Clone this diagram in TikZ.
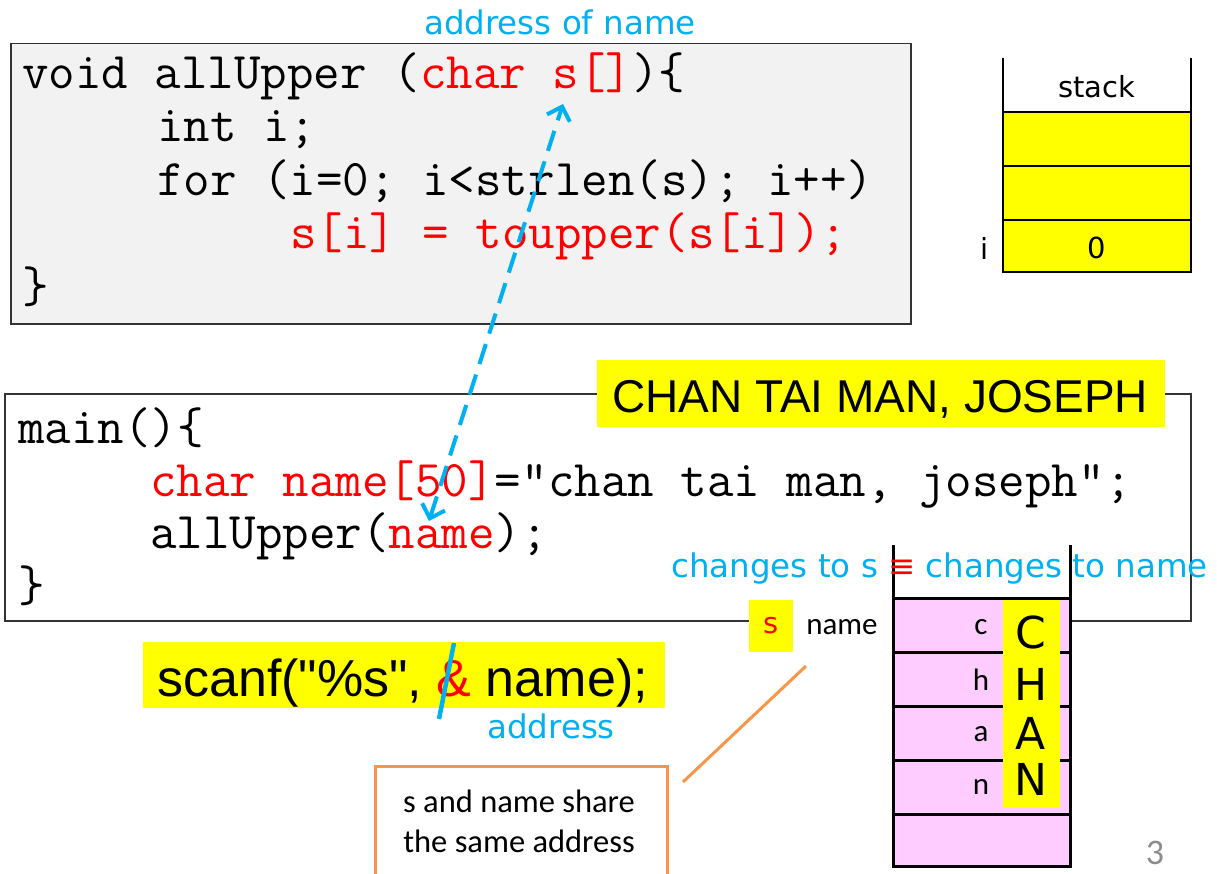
\documentclass[tikz,border=0pt]{standalone}
\usepackage{fontspec}
\usetikzlibrary{arrows.meta}
\newfontfamily\dvs{DejaVu Sans}
\newfontfamily\carl{Carlito}
\newfontfamily\libs{Liberation Sans}
\definecolor{skyb}{HTML}{00B0F0}
\definecolor{codered}{HTML}{FF0000}
\definecolor{boxgray}{HTML}{F2F2F2}
\definecolor{hlyellow}{HTML}{FFFF00}
\definecolor{memPink}{HTML}{FFCCFF}
\definecolor{calloutOrange}{HTML}{F79646}
\definecolor{pagegray}{HTML}{8C8C8C}
\tikzset{
  code/.style={inner sep=0pt, anchor=base west, font=\ttfamily\fontsize{51.5}{56}\selectfont},
  bluelabel/.style={inner sep=0pt, text=skyb, font=\dvs\fontsize{32.5}{38}\selectfont},
  framebox/.style={draw=black!80, line width=1.5pt, inner sep=0pt, anchor=north west},
  hlbox/.style={fill=hlyellow, inner sep=0pt, anchor=north west},
  smallchar/.style={inner sep=0pt, font=\carl\fontsize{31}{34}\selectfont},
  bigchar/.style={inner sep=0pt, font=\dvs\fontsize{44}{50}\selectfont},
  stacklbl/.style={inner sep=0pt, font=\dvs\fontsize{29}{34}\selectfont},
  memline/.style={line width=3pt, black},
  stackline/.style={line width=2.5pt, black},
}
\begin{document}
\begin{tikzpicture}[x=1pt,y=-1pt]
\useasboundingbox (0,0) rectangle (1217,874);

% ---------- function box ----------
\node[framebox, fill=boxgray, minimum width=900pt, minimum height=280pt] (fbox) at (10,43) {};
\node[code] (f1) at (22,89) {void allUpper (\textcolor{codered}{char s[]})\{};
\node[code] (f2) at (157,142) {int i;};
\node[code] (f3) at (157,196) {for (i=0; i<strlen(s); i++)};
\node[code, text=codered] (f4) at (290,249) {s[i] = toupper(s[i]);};
\node[code] (f5) at (22,302) {\}};
\node[bluelabel] (addrname) at (560,22) {address of name};

% ---------- main box ----------
\node[framebox, fill=white, minimum width=1186pt, minimum height=227pt] (mbox) at (4,393) {};
\node[code] (m1) at (18,443) {main()\{};
\node[code] (m2) at (150,496) {\textcolor{codered}{char name[50]}="chan tai man, joseph";};
\node[code] (m3) at (150,548) {allUpper(\textcolor{codered}{name});};
\node[code] (m4) at (18,601) {\}};

% ---------- CHAN TAI MAN box ----------
\node[hlbox, minimum width=568pt, minimum height=67pt] (chanbox) at (597,360) {};
\node[inner sep=0pt, anchor=base west, font=\libs\fontsize{46}{52}\selectfont] (chantxt) at (612,412) {CHAN TAI MAN, JOSEPH};

% ---------- scanf box ----------
\node[hlbox, minimum width=522pt, minimum height=66pt] (scanfbox) at (143,642) {};
\node[inner sep=0pt, anchor=base west, font=\libs\fontsize{52}{56}\selectfont] (scanftxt) at (157,696) {scanf("\%s", \textcolor{codered}{\&} name);};
\node[bluelabel, anchor=base] (addr) at (551,738) {address};

% ---------- callout ----------
\node[draw=calloutOrange, line width=3pt, inner sep=0pt, anchor=north west, minimum width=292pt, minimum height=140pt] (callbox) at (374,765) {};
\node[inner sep=0pt, anchor=base, font=\carl\fontsize{32.5}{40}\selectfont] (call1) at (519,812) {s and name share};
\node[inner sep=0pt, anchor=base, font=\carl\fontsize{32.5}{40}\selectfont] (call2) at (519,852) {the same address};
\coordinate (cl1) at (683,782);
\coordinate (cl2) at (806,666);
\draw[calloutOrange, line width=3pt] (cl1) -- (cl2);

% ---------- memory column ----------
\node[fill=white, inner sep=0pt, minimum width=102pt, minimum height=40pt, font=\carl\fontsize{31}{34}\selectfont] (namelbl) at (842,627) {name};
\fill[memPink] (893,598) rectangle (1070,866);
\foreach \yy in {598,652,706,760,814,866} \draw[memline] (893,\yy) -- (1070,\yy);
\draw[memline] (893,545) -- (893,867.5);
\draw[memline] (1070,545) -- (1070,867.5);
\node[hlbox, minimum width=57pt, minimum height=208pt] (chanstrip) at (1003,600) {};
\node[smallchar] (mc) at (981,627) {c};
\node[smallchar] (mh) at (981,680) {h};
\node[smallchar] (ma) at (981,734) {a};
\node[smallchar] (mn) at (981,787) {n};
\node[bigchar] (bC) at (1031,632) {C};
\node[bigchar] (bH) at (1031,684) {H};
\node[bigchar] (bA) at (1031,733) {A};
\node[bigchar] (bN) at (1031,779) {N};

\node[fill=hlyellow, inner sep=0pt, minimum width=44pt, minimum height=52pt, text=codered, font=\dvs\fontsize{29}{34}\selectfont] (sbox) at (771,626) {s};

\node[bluelabel, anchor=base west] (changes) at (671,577) {changes to s \textcolor{codered}{≡} changes to name};

% ---------- stack ----------
\fill[hlyellow] (1003,112) rectangle (1191,272);
\draw[stackline] (1003,58) -- (1003,273);
\draw[stackline] (1191,58) -- (1191,273);
\foreach \yy in {112,166,220,272} \draw[stackline] (1003,\yy) -- (1191,\yy);
\node[stacklbl] (stacklbl) at (1097,87) {stack};
\node[stacklbl] (ilbl) at (985,248) {i};
\node[stacklbl] (izero) at (1097,248) {0};

% ---------- arrows ----------
\coordinate (stip) at (563,104);
\coordinate (ntip) at (429,521);
\draw[skyb, line width=4pt, dash pattern=on 21pt off 11pt,
  {Straight Barb[length=12pt,width=24pt,line width=4pt]}-{Straight Barb[length=12pt,width=24pt,line width=4pt]}]
  (ntip) -- (stip);
\coordinate (amp1) at (454,643);
\coordinate (amp2) at (439,719);
\draw[skyb, line width=4.5pt] (amp1) -- (amp2);

% ---------- page number ----------
\node[inner sep=0pt, text=pagegray, font=\carl\fontsize{36}{40}\selectfont] (pagenum) at (1155,853) {3};
\end{tikzpicture}
\end{document}
